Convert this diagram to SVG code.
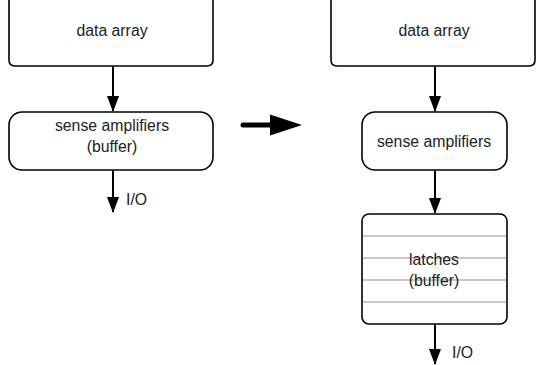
<svg xmlns="http://www.w3.org/2000/svg" width="536" height="365" viewBox="0 0 536 365">
<style>
.box{fill:#fff;stroke:#000;stroke-width:1.6}
.t{font-family:"Liberation Sans",Arial,sans-serif;font-size:15.8px;fill:#222;text-anchor:middle}
.l{font-family:"Liberation Sans",Arial,sans-serif;font-size:15.8px;fill:#222}
.c{stroke:#000;stroke-width:2;fill:none}
.g{stroke:#c8c8c8;stroke-width:2;fill:none}
</style>
<defs>
<marker id="ah" markerUnits="userSpaceOnUse" markerWidth="16" markerHeight="12" refX="15" refY="6" orient="auto" viewBox="0 0 16 12">
<path d="M0,0 L16,6 L0,12 Z" fill="#000"/>
</marker>
</defs>
<rect width="536" height="365" fill="#fff"/>
<g id="left-data-array">
<path class="box" d="M9,-5 V60 Q9,66 15,66 H207 Q213,66 213,60 V-5"/>
<text class="t" x="112" y="36">data array</text>
</g>
<g id="left-sense-amplifiers">
<rect class="box" x="9" y="112" width="204" height="58" rx="13"/>
<text class="t" x="112" y="131">sense amplifiers</text>
<text class="t" x="112" y="152">(buffer)</text>
</g>
<g id="right-data-array">
<path class="box" d="M331,-5 V60 Q331,66 337,66 H529 Q535,66 535,60 V-5"/>
<text class="t" x="434" y="36">data array</text>
</g>
<g id="right-sense-amplifiers">
<rect class="box" x="362" y="112" width="145" height="58" rx="13"/>
<text class="t" x="434" y="147">sense amplifiers</text>
</g>
<g id="latches">
<rect class="box" x="362" y="214" width="145" height="110" rx="7"/>
<line class="g" x1="363" y1="236" x2="506" y2="236"/>
<line class="g" x1="363" y1="258" x2="506" y2="258"/>
<line class="g" x1="363" y1="280" x2="506" y2="280"/>
<line class="g" x1="363" y1="302" x2="506" y2="302"/>
<text class="t" x="434" y="265">latches</text>
<text class="t" x="434" y="286">(buffer)</text>
</g>
<g id="connectors">
<line class="c" x1="113" y1="66" x2="113" y2="111" marker-end="url(#ah)"/>
<line class="c" x1="113" y1="170" x2="113" y2="212" marker-end="url(#ah)"/>
<line class="c" x1="435" y1="66" x2="435" y2="111" marker-end="url(#ah)"/>
<line class="c" x1="435" y1="170" x2="435" y2="213" marker-end="url(#ah)"/>
<line class="c" x1="435" y1="324" x2="435" y2="364" marker-end="url(#ah)"/>
<line x1="243" y1="125" x2="272" y2="125" stroke="#000" stroke-width="5" stroke-linecap="round"/>
<path d="M270,114.5 L302,125 L270,135.5 Z" fill="#000"/>
</g>
<text class="l" x="126" y="205">I/O</text>
<text class="l" x="452" y="358">I/O</text>
</svg>
